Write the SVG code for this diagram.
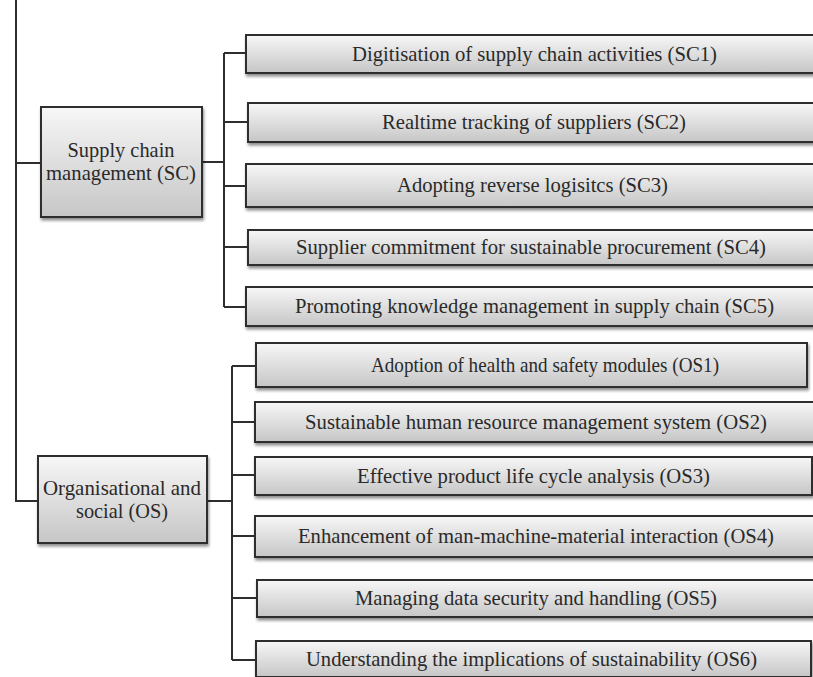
<svg xmlns="http://www.w3.org/2000/svg" width="813" height="677" viewBox="0 0 813 677">
<defs>
<linearGradient id="g" x1="0" y1="0" x2="0" y2="1">
<stop offset="0" stop-color="#f7f7f7"/>
<stop offset="1" stop-color="#c6c6c6"/>
</linearGradient>
<filter id="sh" x="-5%" y="-20%" width="110%" height="150%">
<feDropShadow dx="1" dy="2.5" stdDeviation="1.5" flood-color="#000" flood-opacity="0.45"/>
</filter>
</defs>
<style>
.box{fill:url(#g);stroke:#2e2e2e;stroke-width:2;filter:url(#sh)}
.t{font-family:"Liberation Serif","Times New Roman",serif;font-size:22px;fill:#2a2a2a}
.p{font-size:21px}
.m{text-anchor:middle}
.c{fill:none;stroke:#2e2e2e;stroke-width:2}
</style>
<rect width="813" height="677" fill="#fff"/>
<g id="connectors">
<path class="c" d="M16 0 V501 H38 M16 163 H41"/>
<path class="c" d="M202 162 H224 M224 53 V307 M224 53 H246 M224 122 H248 M224 186 H246 M224 247 H248 M224 307 H246"/>
<path class="c" d="M207 501 H232 M232 366 V660 M232 366 H256 M232 422 H255 M232 475 H255 M232 536 H255 M232 598 H257 M232 660 H256"/>
</g>
<g id="SC">
<rect class="box" x="41" y="107" width="161" height="110"/>
<text class="t p m" x="121" y="157" textLength="107" lengthAdjust="spacingAndGlyphs">Supply chain</text>
<text class="t p m" x="121" y="180" textLength="150" lengthAdjust="spacingAndGlyphs">management (SC)</text>
</g>
<g id="OS">
<rect class="box" x="38" y="456" width="169" height="87"/>
<text class="t p m" x="122" y="495" textLength="158" lengthAdjust="spacingAndGlyphs">Organisational and</text>
<text class="t p m" x="122" y="518" textLength="92" lengthAdjust="spacingAndGlyphs">social (OS)</text>
</g>
<g id="SC1">
<rect class="box" x="246" y="35" width="580" height="38"/>
<text class="t" x="352" y="61" textLength="365" lengthAdjust="spacingAndGlyphs">Digitisation of supply chain activities (SC1)</text>
</g>
<g id="SC2">
<rect class="box" x="248" y="103" width="580" height="39"/>
<text class="t" x="382" y="129" textLength="304" lengthAdjust="spacingAndGlyphs">Realtime tracking of suppliers (SC2)</text>
</g>
<g id="SC3">
<rect class="box" x="246" y="164" width="580" height="43"/>
<text class="t" x="397" y="192" textLength="271" lengthAdjust="spacingAndGlyphs">Adopting reverse logisitcs (SC3)</text>
</g>
<g id="SC4">
<rect class="box" x="248" y="230" width="580" height="35"/>
<text class="t" x="296" y="254" textLength="470" lengthAdjust="spacingAndGlyphs">Supplier commitment for sustainable procurement (SC4)</text>
</g>
<g id="SC5">
<rect class="box" x="246" y="287" width="580" height="39"/>
<text class="t" x="295" y="313" textLength="479" lengthAdjust="spacingAndGlyphs">Promoting knowledge management in supply chain (SC5)</text>
</g>
<g id="OS1">
<rect class="box" x="256" y="343" width="551" height="44"/>
<text class="t" x="371" y="372" textLength="348" lengthAdjust="spacingAndGlyphs">Adoption of health and safety modules (OS1)</text>
</g>
<g id="OS2">
<rect class="box" x="255" y="402" width="580" height="40"/>
<text class="t" x="305" y="429" textLength="462" lengthAdjust="spacingAndGlyphs">Sustainable human resource management system (OS2)</text>
</g>
<g id="OS3">
<rect class="box" x="255" y="457" width="557" height="38"/>
<text class="t" x="357" y="483" textLength="353" lengthAdjust="spacingAndGlyphs">Effective product life cycle analysis (OS3)</text>
</g>
<g id="OS4">
<rect class="box" x="255" y="516" width="580" height="41"/>
<text class="t" x="298" y="543" textLength="476" lengthAdjust="spacingAndGlyphs">Enhancement of man-machine-material interaction (OS4)</text>
</g>
<g id="OS5">
<rect class="box" x="257" y="580" width="580" height="37"/>
<text class="t" x="355" y="605" textLength="362" lengthAdjust="spacingAndGlyphs">Managing data security and handling (OS5)</text>
</g>
<g id="OS6">
<rect class="box" x="256" y="641" width="555" height="36"/>
<text class="t" x="306" y="666" textLength="451" lengthAdjust="spacingAndGlyphs">Understanding the implications of sustainability (OS6)</text>
</g>
</svg>
